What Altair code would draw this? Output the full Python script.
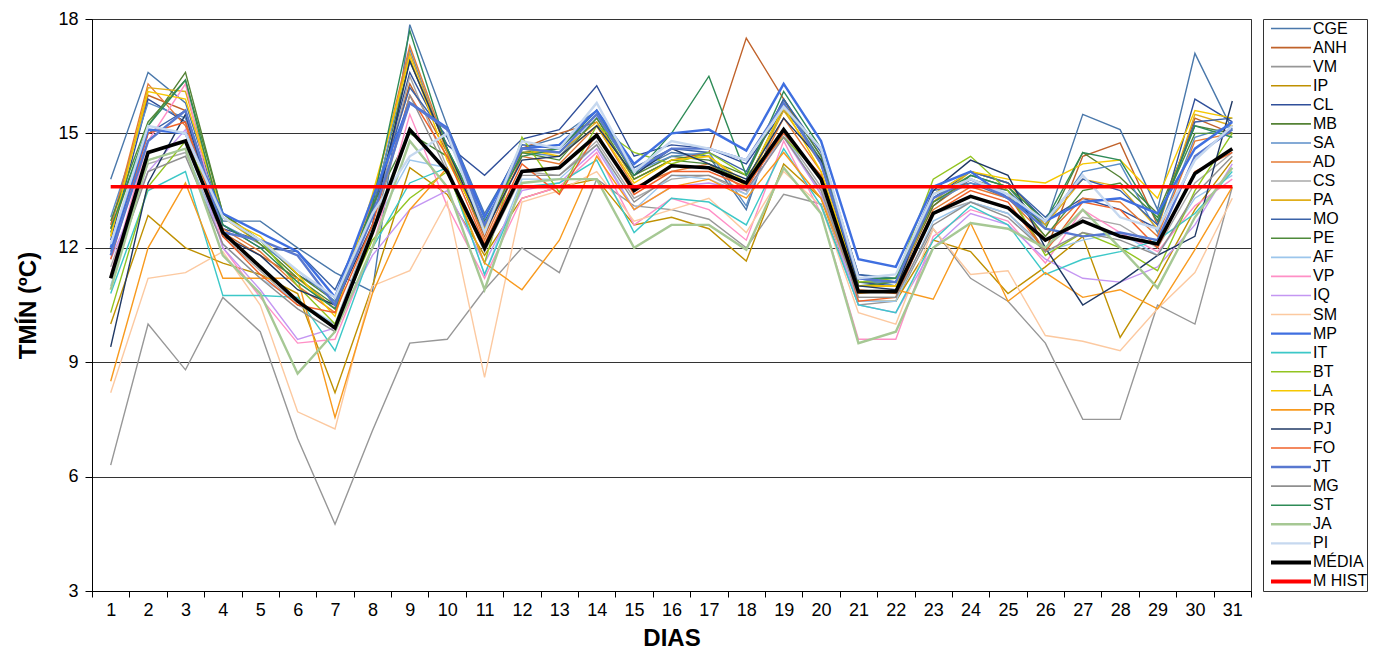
import altair as alt
import pandas as pd

FONT = "Liberation Sans"

DAYS = list(range(1, 32))

STATIONS = ["CGE", "ANH", "VM", "IP", "CL", "MB", "SA", "AD", "CS", "PA",
            "MO", "PE", "AF", "VP", "IQ", "SM", "MP", "IT", "BT", "LA",
            "PR", "PJ", "FO", "JT", "MG", "ST", "JA", "PI"]
STATION_COLORS = ["#4a78ab", "#c0622a", "#979797", "#bf9000", "#2f4f9a", "#548235",
                  "#5b8ec8", "#e57a35", "#a8a8a8", "#e0ae1a", "#3a62a8", "#4e8a3a",
                  "#9cc6ec", "#ff8fc6", "#c496f2", "#fcc9a0", "#3f6fe0", "#3cc8c8",
                  "#92c420", "#f6c800", "#f89a1e", "#1f3864", "#f0622a", "#5878d0",
                  "#8f8f8f", "#2e8b57", "#a6c894", "#c6d8ef"]
THICK_STATIONS = ["MP", "JT", "JA", "PI"]

#        1     2     3     4     5     6     7     8     9     10    11    12    13    14    15    16    17    18    19    20    21    22    23    24    25    26    27    28    29    30    31
CGE = [13.8, 16.6, 15.8, 12.7, 12.7, 12.0, 11.35, 10.85, 17.85, 15.2, 12.9, 14.6, 14.9, 15.6, 14.0, 14.5, 14.4, 13.0, 15.9, 14.4, 11.3, 11.2, 13.5, 13.7, 13.3, 12.6, 15.5, 15.1, 13.0, 17.1, 15.1]
ANH = [12.6, 16.0, 15.6, 12.4, 11.8, 11.2, 10.4, 13.0, 16.3, 14.5, 12.3, 14.6, 15.0, 15.3, 13.8, 14.3, 14.5, 17.5, 15.9, 14.2, 11.0, 11.0, 13.1, 13.8, 13.4, 11.9, 14.4, 14.75, 12.6, 15.4, 15.0]
VM = [6.3, 10.0, 8.8, 10.7, 9.8, 7.0, 4.75, 7.2, 9.5, 9.6, 10.9, 12.0, 11.35, 13.8, 13.1, 13.0, 12.75, 12.0, 13.4, 13.15, 10.5, 10.6, 12.5, 11.2, 10.6, 9.5, 7.5, 7.5, 10.5, 10.0, 13.6]
IP = [10.0, 12.85, 12.0, 11.6, 11.3, 10.8, 8.2, 11.0, 14.1, 13.4, 11.8, 13.3, 13.6, 13.8, 12.6, 12.8, 12.5, 11.65, 14.2, 13.3, 10.6, 10.6, 12.2, 11.9, 10.8, 11.5, 12.3, 9.65, 11.2, 13.0, 14.3]
CL = [12.2, 15.9, 15.3, 12.5, 12.2, 11.3, 10.7, 12.9, 16.6, 14.7, 13.9, 14.85, 15.1, 16.25, 14.4, 14.7, 14.6, 14.2, 15.6, 14.6, 11.1, 11.0, 13.3, 14.0, 13.7, 12.7, 13.3, 13.0, 12.5, 15.9, 15.3]
MB = [12.4, 15.2, 16.6, 12.9, 12.2, 11.3, 10.6, 13.0, 16.9, 14.6, 12.6, 14.5, 14.6, 15.5, 13.9, 14.4, 14.3, 13.9, 15.9, 14.4, 11.1, 11.1, 13.1, 13.9, 13.6, 12.5, 14.5, 13.85, 12.9, 15.2, 15.0]
SA = [12.8, 15.8, 15.4, 12.6, 12.1, 11.4, 10.6, 12.9, 17.2, 14.5, 12.5, 14.5, 14.4, 15.4, 14.0, 14.4, 14.5, 13.1, 15.8, 14.3, 11.2, 11.0, 13.2, 13.7, 13.5, 12.6, 14.0, 14.2, 12.4, 14.9, 15.2]
AD = [12.5, 16.3, 15.2, 12.5, 11.9, 11.0, 10.3, 13.2, 17.3, 14.6, 12.2, 14.4, 14.2, 15.2, 13.6, 14.0, 14.2, 13.5, 15.4, 14.0, 10.9, 10.8, 13.0, 13.6, 13.3, 12.3, 13.3, 13.2, 12.3, 14.8, 15.0]
CS = [11.5, 14.2, 14.5, 12.3, 11.4, 10.5, 10.0, 12.6, 16.5, 14.1, 12.0, 14.0, 13.9, 14.8, 13.3, 13.8, 13.9, 13.4, 15.0, 13.6, 10.7, 10.7, 12.9, 13.2, 12.9, 12.0, 12.8, 12.6, 12.0, 13.7, 14.5]
PA = [12.3, 16.2, 16.1, 12.8, 12.1, 11.2, 10.4, 13.3, 17.1, 14.5, 12.4, 14.5, 14.5, 15.3, 13.8, 14.3, 14.4, 13.6, 15.6, 14.2, 11.0, 11.0, 13.2, 14.0, 13.7, 12.6, 13.8, 13.6, 12.5, 15.5, 15.2]
MO = [11.9, 15.0, 15.6, 12.6, 12.0, 11.9, 10.9, 13.0, 16.2, 14.9, 12.8, 14.7, 14.6, 15.6, 14.1, 14.6, 14.5, 14.0, 15.9, 14.5, 11.3, 11.1, 13.4, 14.0, 13.7, 12.8, 13.8, 13.5, 12.6, 15.3, 15.4]
PE = [12.7, 15.3, 16.4, 12.9, 12.1, 11.2, 10.5, 13.1, 15.0, 14.4, 12.4, 14.5, 14.3, 15.4, 13.8, 14.3, 14.2, 13.7, 15.7, 14.3, 11.0, 11.1, 13.2, 13.8, 13.5, 12.3, 13.5, 13.7, 12.8, 15.0, 15.0]
AF = [11.0, 14.3, 14.6, 12.1, 11.2, 10.6, 10.0, 12.5, 14.3, 14.1, 11.3, 13.8, 13.8, 14.7, 13.0, 13.9, 13.8, 13.4, 15.0, 13.4, 10.6, 10.6, 12.7, 13.2, 12.9, 11.9, 12.2, 12.4, 11.8, 13.3, 13.9]
VP = [11.3, 14.8, 16.3, 12.0, 10.7, 9.5, 9.6, 12.0, 15.5, 13.1, 11.2, 13.3, 13.6, 14.5, 12.6, 13.3, 13.0, 12.2, 14.8, 12.9, 9.6, 9.6, 12.3, 13.0, 12.7, 11.6, 13.0, 12.4, 11.9, 13.1, 13.8]
IQ = [11.7, 14.0, 15.1, 12.0, 10.9, 9.6, 9.9, 11.8, 13.0, 13.5, 11.6, 13.5, 13.7, 14.6, 13.0, 13.6, 13.7, 13.5, 14.9, 13.4, 10.5, 10.3, 12.0, 12.9, 12.6, 11.7, 11.2, 11.1, 11.5, 12.6, 14.2]
SM = [8.2, 11.2, 11.35, 11.9, 10.5, 7.7, 7.25, 11.0, 11.4, 13.2, 8.6, 13.2, 13.5, 14.0, 12.7, 13.0, 13.3, 12.4, 14.0, 13.1, 10.3, 10.0, 12.5, 11.3, 11.4, 9.7, 9.55, 9.3, 10.4, 11.35, 13.3]
MP = [12.0, 15.1, 15.0, 12.9, 12.4, 11.9, 10.7, 13.3, 15.8, 15.15, 12.8, 14.6, 14.7, 15.6, 14.2, 15.0, 15.1, 14.55, 16.3, 14.8, 11.7, 11.5, 13.6, 14.0, 13.3, 12.7, 13.2, 13.3, 12.9, 14.6, 15.3]
IT = [10.8, 13.5, 14.0, 10.75, 10.75, 10.7, 9.3, 12.0, 13.7, 14.1, 11.3, 13.6, 13.7, 14.3, 12.4, 13.3, 13.2, 12.6, 14.6, 13.1, 10.5, 10.3, 12.2, 13.1, 12.6, 11.3, 11.7, 11.9, 12.2, 12.9, 14.0]
BT = [10.3, 13.6, 14.8, 12.8, 12.2, 11.0, 10.0, 12.2, 13.3, 14.0, 11.6, 14.9, 13.45, 15.2, 14.5, 14.2, 14.5, 13.9, 14.9, 13.9, 11.1, 11.2, 13.8, 14.4, 13.5, 11.8, 12.4, 12.0, 11.4, 13.5, 15.0]
LA = [12.3, 16.1, 15.9, 12.8, 12.3, 11.3, 10.2, 13.4, 17.0, 14.3, 12.5, 14.6, 14.4, 15.2, 13.7, 14.3, 14.4, 13.7, 15.7, 14.0, 11.0, 11.0, 13.4, 14.0, 13.8, 13.7, 14.2, 14.3, 13.3, 15.6, 15.4]
PR = [8.5, 12.0, 13.7, 11.2, 11.2, 11.2, 7.55, 10.8, 13.0, 14.1, 11.6, 10.9, 12.2, 14.4, 13.0, 13.6, 13.8, 13.3, 14.5, 13.3, 10.8, 10.9, 10.65, 12.65, 10.6, 11.35, 10.7, 10.9, 10.4, 11.95, 13.6]
PJ = [9.4, 13.7, 15.5, 12.3, 11.8, 10.9, 10.5, 12.6, 16.9, 14.6, 12.4, 14.3, 14.4, 15.2, 13.9, 14.6, 14.2, 13.8, 15.4, 14.3, 11.0, 10.9, 13.5, 14.3, 13.9, 12.0, 10.5, 11.1, 11.8, 12.3, 15.85]
FO = [11.7, 15.0, 15.3, 12.3, 11.3, 10.5, 10.3, 12.6, 16.0, 14.4, 12.1, 14.2, 13.4, 15.0, 13.4, 14.0, 14.0, 13.6, 15.0, 13.9, 10.6, 10.7, 12.9, 13.5, 13.2, 11.9, 13.2, 13.0, 12.0, 14.0, 14.5]
JT = [11.8, 14.8, 15.6, 12.4, 12.2, 11.8, 10.5, 12.8, 15.8, 15.1, 12.6, 14.6, 14.5, 15.5, 14.0, 14.6, 14.6, 14.3, 15.8, 14.2, 11.2, 11.1, 13.3, 13.8, 13.3, 12.5, 12.3, 12.4, 12.2, 14.4, 15.1]
MG = [11.2, 14.0, 14.4, 12.1, 11.2, 10.4, 9.8, 12.4, 16.0, 14.0, 11.9, 13.9, 13.9, 14.7, 13.2, 13.9, 13.9, 13.5, 14.9, 13.5, 10.7, 10.7, 12.6, 13.2, 12.8, 11.9, 12.4, 12.2, 11.8, 13.4, 14.4]
ST = [12.5, 15.2, 16.4, 12.6, 12.0, 11.1, 10.4, 13.1, 17.7, 14.6, 12.7, 14.4, 14.6, 15.6, 13.9, 15.0, 16.5, 13.9, 16.1, 14.6, 11.2, 11.2, 13.3, 13.9, 13.6, 12.7, 14.5, 14.3, 12.7, 15.2, 14.9]
JA = [10.9, 14.3, 14.6, 11.8, 10.8, 8.7, 9.8, 12.0, 14.8, 13.6, 10.9, 13.7, 13.8, 13.8, 12.0, 12.6, 12.6, 11.95, 14.1, 12.9, 9.5, 9.8, 12.0, 12.65, 12.5, 12.0, 13.0, 12.0, 10.95, 12.8, 14.1]
PI = [12.1, 15.2, 15.0, 12.8, 12.2, 11.4, 10.7, 12.9, 14.4, 15.0, 12.4, 14.8, 14.6, 15.8, 14.0, 14.8, 14.6, 14.3, 15.7, 14.6, 11.2, 11.3, 13.4, 13.8, 13.4, 12.7, 13.9, 12.8, 12.5, 14.3, 15.2]

MEDIA = [11.2, 14.5, 14.8, 12.4, 11.5, 10.6, 9.9, 12.4, 15.1, 14.0, 12.0, 14.0, 14.1, 14.95, 13.5, 14.15, 14.1, 13.7, 15.1, 13.8, 10.85, 10.85, 12.9, 13.35, 13.05, 12.2, 12.7, 12.3, 12.1, 13.95, 14.6]
M_HIST = 13.6

STATION_VALUES = [CGE, ANH, VM, IP, CL, MB, SA, AD, CS, PA, MO, PE, AF, VP, IQ,
                  SM, MP, IT, BT, LA, PR, PJ, FO, JT, MG, ST, JA, PI]

ALL_NAMES = STATIONS + ["MÉDIA", "M HIST"]
ALL_COLORS = STATION_COLORS + ["#000000", "#ff0000"]

st_rows = []
for name, vals in zip(STATIONS, STATION_VALUES):
    for d, v in zip(DAYS, vals):
        st_rows.append({"day": d, "serie": name, "value": v})
df_st = pd.DataFrame(st_rows)
df_thin = df_st[~df_st["serie"].isin(THICK_STATIONS)]
df_thick = df_st[df_st["serie"].isin(THICK_STATIONS)]
df_media = pd.DataFrame({"day": DAYS, "serie": "MÉDIA", "value": MEDIA})
df_hist = pd.DataFrame({"day": DAYS, "serie": "M HIST", "value": M_HIST})

color_scale = alt.Scale(domain=ALL_NAMES, range=ALL_COLORS)

x_enc = alt.X(
    "day:O",
    scale=alt.Scale(type="band", paddingInner=0, paddingOuter=0),
    axis=alt.Axis(title="DIAS", labelAngle=0, tickBand="extent", tickSize=6,
                  labelPadding=4, titlePadding=7, grid=False),
)
y_enc = alt.Y(
    "value:Q",
    scale=alt.Scale(domain=[3, 18], nice=False, zero=False),
    axis=alt.Axis(title="TMÍN (ºC)", values=[3, 6, 9, 12, 15, 18], grid=True,
                  tickSize=7, labelPadding=7, titlePadding=17),
)


def line_layer(df, sw):
    return alt.Chart(df).mark_line(strokeWidth=sw).encode(
        x=x_enc,
        y=y_enc,
        color=alt.Color("serie:N", scale=color_scale, legend=None),
        detail="serie:N",
    )


main = alt.layer(
    line_layer(df_thin, 1.4),
    line_layer(df_thick, 2.4),
    line_layer(df_media, 3.6),
    line_layer(df_hist, 3.6),
).properties(width=1159, height=572)

leg_thin = pd.DataFrame({"serie": [n for n in STATIONS if n not in THICK_STATIONS]})
leg_thick = pd.DataFrame({"serie": THICK_STATIONS})
leg_bold = pd.DataFrame({"serie": ["MÉDIA", "M HIST"]})
leg_all = pd.DataFrame({"serie": ALL_NAMES})
leg_y = alt.Y("serie:N", sort=ALL_NAMES,
              scale=alt.Scale(type="point", padding=0.5, domain=ALL_NAMES), axis=None)


def leg_rule(df, sw):
    return alt.Chart(df).mark_rule(strokeWidth=sw).encode(
        y=leg_y,
        x=alt.value(8),
        x2=alt.value(48),
        color=alt.Color("serie:N", scale=color_scale, legend=None),
    )


leg_text = alt.Chart(leg_all).mark_text(
    align="left", baseline="middle", fontSize=16, font=FONT, color="black"
).encode(y=leg_y, x=alt.value(50), text="serie:N")
legend = alt.layer(
    leg_rule(leg_thin, 1.6), leg_rule(leg_thick, 2.4), leg_rule(leg_bold, 4), leg_text
).properties(width=104, height=572)

chart = (
    alt.hconcat(main, legend, spacing=12, bounds="flush")
    .properties(padding={"left": 8, "top": 1, "right": 0, "bottom": 0}, background="white")
    .configure_view(stroke="#333333", strokeWidth=1)
    .configure_axis(
        labelFont=FONT, labelFontSize=18, labelColor="black",
        titleFont=FONT, titleFontSize=24, titleFontWeight="bold", titleColor="black",
        tickColor="black", domainColor="black", gridColor="#333333", gridWidth=1,
    )
)

chart.save("out.html", embed_options={"renderer": "svg", "actions": False})
